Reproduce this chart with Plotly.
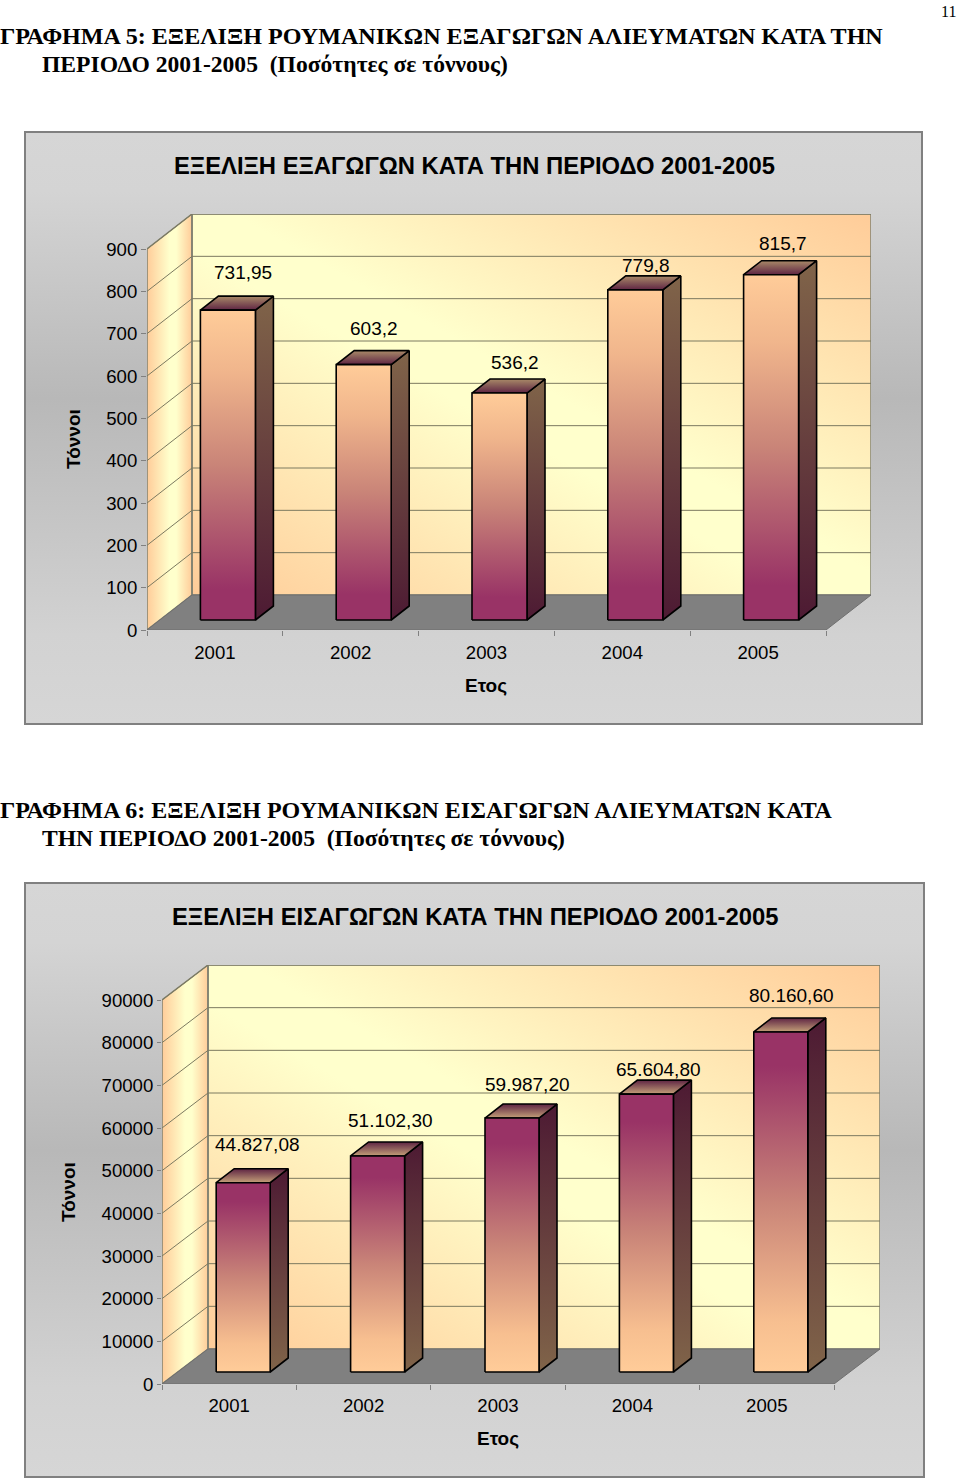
import base64
import plotly.graph_objects as go

W, H = 960, 1478

years = ["2001", "2002", "2003", "2004", "2005"]
export_values = [731.95, 603.2, 536.2, 779.8, 815.7]
export_labels = ["731,95", "603,2", "536,2", "779,8", "815,7"]
import_values = [44827.08, 51102.30, 59987.20, 65604.80, 80160.60]
import_labels = ["44.827,08", "51.102,30", "59.987,20", "65.604,80", "80.160,60"]
export_ticks = [0, 100, 200, 300, 400, 500, 600, 700, 800, 900]
import_ticks = [0, 10000, 20000, 30000, 40000, 50000, 60000, 70000, 80000, 90000]

PEACH, PLUM = "#FFCC99", "#993366"
YELLOW = "#FFFFCC"
SIDE_LIGHT, SIDE_DARK = "#806449", "#4D1A33"
TOP_LIGHT, TOP_DARK = "#A98A68", "#5E2443"


def px(x):
    return x / W


def py(y):
    return 1 - y / H


def svg_uri(body):
    svg = f'<svg xmlns="http://www.w3.org/2000/svg" width="400" height="400" viewBox="0 0 400 400" preserveAspectRatio="none">{body}</svg>'
    return "data:image/svg+xml;base64," + base64.b64encode(svg.encode()).decode()


WALL_SVG = svg_uri(
    '<defs><linearGradient id="g" x1="1" y1="0" x2="0" y2="1">'
    f'<stop offset="0" stop-color="{PEACH}"/><stop offset="0.47" stop-color="{YELLOW}"/>'
    f'<stop offset="0.55" stop-color="{YELLOW}"/><stop offset="1" stop-color="{PEACH}"/>'
    '</linearGradient></defs><rect width="400" height="400" fill="url(#g)"/>'
)
PANEL_SVG = svg_uri(
    '<defs><linearGradient id="g" x1="0" y1="0" x2="0" y2="1">'
    '<stop offset="0" stop-color="#D6D6D6"/><stop offset="0.1" stop-color="#D4D4D4"/>'
    '<stop offset="0.45" stop-color="#B8B8B8"/><stop offset="0.85" stop-color="#D2D2D2"/>'
    '<stop offset="1" stop-color="#D6D6D6"/></linearGradient></defs>'
    '<rect width="400" height="400" fill="url(#g)"/>'
)

fig = go.Figure()
images, annotations, shapes = [], [], []


def poly(xs, ys, xa, ya, **kw):
    fig.add_trace(go.Scatter(x=xs, y=ys, xaxis=xa, yaxis=ya, mode="lines", hoverinfo="skip",
                             showlegend=False, **kw))


def chart(n, values, labels, ticks, grad_top, grad_bot, side_top, side_bot, top_back, top_front, frame, label_off):
    xa, ya = ("x", "y") if n == 1 else (f"x{n}", f"y{n}")
    (left, right, zero, top_tick, ddx, ddy, bar_w, bar_base, bar_dx, bar_ddx, bar_ddy, grad_mid,
     top_adj, x_standoff, y_ticklen) = frame
    ymax = ticks[-1]
    ux = 5 / (right - left)          # axis units per pixel
    uy = ymax / (zero - top_tick)
    DX, DY = ddx * ux, ddy * uy
    xmin, xmax = 0.5, 5.5
    suffix = "" if n == 1 else str(n)
    fig.update_layout(**{
        f"xaxis{suffix}": dict(
            domain=[px(left), px(right + ddx)], range=[xmin, xmax + DX], showgrid=False, zeroline=False,
            showline=False, tickmode="array", tickvals=[1, 2, 3, 4, 5], ticktext=years, automargin=False,
            ticks="", ticklabelstandoff=x_standoff, tickfont=dict(family="Liberation Sans", size=18.6, color="#000"),
            minor=dict(tickmode="array", tickvals=[0.5, 1.5, 2.5, 3.5, 4.5, 5.5], ticks="outside", ticklen=5,
                       tickcolor="#808080", tickwidth=1, showgrid=False),
            anchor=ya, fixedrange=True),
        f"yaxis{suffix}": dict(
            domain=[py(zero), py(top_tick - ddy)], range=[0, ymax + DY], showgrid=False, zeroline=False,
            showline=False, tickmode="array", tickvals=ticks, ticktext=[str(t) for t in ticks], automargin=False,
            ticks="outside", ticklen=y_ticklen, tickcolor="#808080", tickwidth=1, ticklabelstandoff=0,
            tickfont=dict(family="Liberation Sans", size=18.6, color="#000"),
            anchor=xa, fixedrange=True),
    })
    # back wall
    images.append(dict(source=WALL_SVG, xref=xa, yref=ya, x=xmin + DX, y=ymax + DY, sizex=xmax - xmin,
                       sizey=ymax, sizing="stretch", xanchor="left", yanchor="top", layer="below"))
    # left wall
    poly([xmin, xmin + DX, xmin + DX, xmin, xmin], [0, DY, ymax + DY, ymax, 0], xa, ya, fill="toself",
         line=dict(color="#808070", width=1.5),
         fillgradient=dict(type="horizontal", colorscale=[[0, PEACH], [0.5, YELLOW], [0.65, YELLOW], [1, PEACH]]))
    # back-wall outline and floor
    poly([xmin + DX, xmax + DX, xmax + DX, xmin + DX, xmin + DX], [DY, DY, ymax + DY, ymax + DY, DY], xa, ya,
         line=dict(color="#808070", width=1.5))
    poly([xmin, xmax, xmax + DX, xmin + DX, xmin], [0, 0, DY, DY, 0], xa, ya, fill="toself",
         fillcolor="#808080", line=dict(color="#6F6F6F", width=1))
    # grid lines
    for t in ticks[1:]:
        poly([xmin, xmin + DX, xmax + DX], [t, t + DY, t + DY], xa, ya,
             line=dict(color="#7C7A60", width=1))
    # bars
    b = bar_base * uy
    hw = bar_w * ux / 2
    off = bar_dx * ux
    bdx, bdy = bar_ddx * ux, bar_ddy * uy
    for i, v in enumerate(values):
        c = i + 1 + off
        l, r = c - hw, c + hw
        vt = v + b + top_adj * uy
        edge = dict(color="#000000", width=1.6)
        poly([r, r + bdx, r + bdx, r, r], [b, b + bdy, vt + bdy, vt, b], xa, ya, fill="toself", line=edge,
             fillgradient=dict(type="vertical", colorscale=[[0, side_bot], [1, side_top]]))
        poly([l, r, r + bdx, l + bdx, l], [vt, vt, vt + bdy, vt + bdy, vt], xa, ya, fill="toself", line=edge,
             fillgradient=dict(type="vertical", colorscale=[[0, top_front], [1, top_back]]))
        poly([l, r, r, l, l], [b, b, vt, vt, b], xa, ya, fill="toself", line=edge,
             fillgradient=dict(type="vertical", colorscale=grad_mid))
        annotations.append(dict(x=c, y=vt, xref=xa, yref=ya, text=labels[i], showarrow=False,
                                xshift=label_off[i][0], yshift=label_off[i][1],
                                xanchor="center", yanchor="middle",
                                font=dict(family="Liberation Sans", size=19, color="#000")))


chart(1, export_values, export_labels, export_ticks, PEACH, PLUM, SIDE_LIGHT, SIDE_DARK, TOP_LIGHT, TOP_DARK,
      (147, 826, 630, 249, 45, 35, 55, 10, 13, 18, 14,
       [[0, PLUM], [0.1, PLUM], [0.5, "#C98478"], [0.8, "#F0B58C"], [1, PEACH]], 0, 9, 5),
      [(15, 38), (10.5, 36.5), (15, 30.5), (10.5, 24), (12, 31)])
chart(2, import_values, import_labels, import_ticks, PLUM, PEACH, SIDE_DARK, SIDE_LIGHT, TOP_DARK, "#C4A078",
      (162, 834, 1384, 1000, 46, 35, 54, 12, 14, 18, 14,
       [[0, PEACH], [0.15, "#F7BF90"], [0.5, "#C98478"], [0.9, PLUM], [1, PLUM]], -2, 8, 4),
      [(14.5, 38), (12.5, 35), (15.5, 34), (12, 25), (11, 36)])

# chart panels
for (x0, y0, x1, y1) in [(25, 132, 922, 724), (25, 883, 924, 1477)]:
    images.append(dict(source=PANEL_SVG, xref="paper", yref="paper", x=px(x0), y=py(y0), sizex=px(x1 - x0),
                       sizey=(y1 - y0) / H, sizing="stretch", xanchor="left", yanchor="top", layer="below"))
    shapes.append(dict(type="rect", xref="paper", yref="paper", x0=px(x0), x1=px(x1), y0=py(y0), y1=py(y1),
                       line=dict(color="#808080", width=2), layer="below"))


def note(x, y, text, size, family="Liberation Sans", bold=False, anchor="center", angle=0):
    if bold:
        text = f"<b>{text}</b>"
    annotations.append(dict(x=px(x), y=py(y), xref="paper", yref="paper", text=text, showarrow=False,
                            xanchor=anchor, yanchor="middle", textangle=angle,
                            font=dict(family=family, size=size, color="#000")))


SERIF = "Liberation Serif"
note(948, 11, "11", 16, SERIF)
note(-2, 36, "ΓΡΑΦΗΜΑ 5: ΕΞΕΛΙΞΗ ΡΟΥΜΑΝΙΚΩΝ ΕΞΑΓΩΓΩΝ ΑΛΙΕΥΜΑΤΩΝ ΚΑΤΑ ΤΗΝ", 24.1, SERIF, True, "left")
note(40, 64, "ΠΕΡΙΟΔΟ 2001-2005 \u00a0(Ποσότητες σε τόννους)", 23.6, SERIF, True, "left")
note(-2, 810, "ΓΡΑΦΗΜΑ 6: ΕΞΕΛΙΞΗ ΡΟΥΜΑΝΙΚΩΝ ΕΙΣΑΓΩΓΩΝ ΑΛΙΕΥΜΑΤΩΝ ΚΑΤΑ", 24, SERIF, True, "left")
note(40, 838, "ΤΗΝ ΠΕΡΙΟΔΟ 2001-2005 \u00a0(Ποσότητες σε τόννους)", 23.6, SERIF, True, "left")
note(474, 165, "ΕΞΕΛΙΞΗ ΕΞΑΓΩΓΩΝ ΚΑΤΑ ΤΗΝ ΠΕΡΙΟΔΟ 2001-2005", 23.8, bold=True)
note(475, 916, "ΕΞΕΛΙΞΗ ΕΙΣΑΓΩΓΩΝ ΚΑΤΑ ΤΗΝ ΠΕΡΙΟΔΟ 2001-2005", 23.8, bold=True)
note(486, 685, "Ετος", 19, bold=True)
note(498, 1438, "Ετος", 19, bold=True)
note(74, 439, "Τόννοι", 19, bold=True, angle=-90)
note(68, 1192, "Τόννοι", 19, bold=True, angle=-90)

fig.update_layout(width=W, height=H, autosize=False, margin=dict(l=0, r=0, t=0, b=0, pad=0),
                  paper_bgcolor="#FFFFFF", plot_bgcolor="rgba(0,0,0,0)", showlegend=False,
                  images=images, annotations=annotations, shapes=shapes)

fig.write_html("out.html", config={"displayModeBar": False}, post_script="document.body.style.margin='0';")
